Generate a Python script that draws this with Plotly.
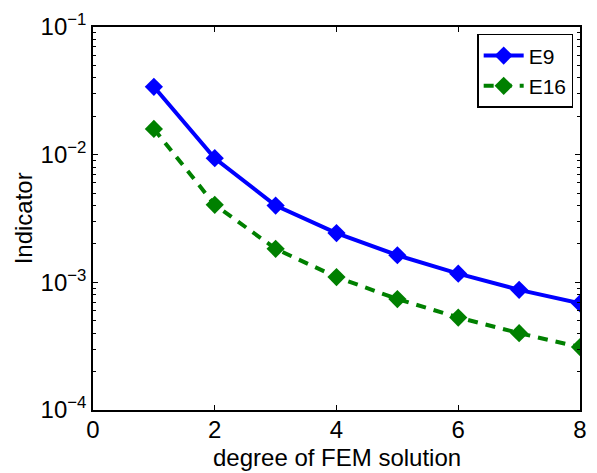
import plotly.graph_objects as go

degree = [1, 2, 3, 4, 5, 6, 7, 8]
e9 = [0.0340, 0.00938, 0.00399, 0.00243, 0.00163, 0.00117, 0.000873, 0.000684]
e16 = [0.0159, 0.00405, 0.00183, 0.00110, 0.00074, 0.00053, 0.00040, 0.000311]

x_ticks = [0, 2, 4, 6, 8]
y_ticks = [1e-4, 1e-3, 1e-2, 1e-1]
y_ticktext = ["10<sup>\u22124</sup>", "10<sup>\u22123</sup>", "10<sup>\u22122</sup>", "10<sup>\u22121</sup>"]
y_minor = [m * 10.0 ** e for e in (-4, -3, -2) for m in range(2, 10)]

font = "Liberation Sans, Arial, sans-serif"

fig = go.Figure()
fig.add_trace(go.Scatter(
    x=degree, y=e9, name="E9", mode="lines+markers",
    line=dict(color="rgb(0,0,255)", width=4),
    marker=dict(symbol="diamond", size=14, color="rgb(0,0,255)"),
))
fig.add_trace(go.Scatter(
    x=degree, y=e16, name="E16", mode="lines+markers",
    line=dict(color="rgb(0,128,0)", width=4, dash="10px,8px"),
    marker=dict(symbol="diamond", size=14, color="rgb(0,128,0)"),
))

fig.update_layout(
    width=597, height=473,
    margin=dict(l=93, r=10, t=24, b=63),
    paper_bgcolor="white", plot_bgcolor="white",
    font=dict(family=font, size=24, color="black"),
    showlegend=True,
    legend=dict(
        x=0.986, y=0.982, xanchor="right", yanchor="top",
        bordercolor="black", borderwidth=1.5, bgcolor="white",
        font=dict(size=21), tracegroupgap=0, itemwidth=40,
    ),
    annotations=[
        dict(text="degree of FEM solution", xref="paper", yref="paper",
             x=0.5, y=-0.123, xanchor="center", yanchor="middle",
             showarrow=False, font=dict(size=24)),
        dict(text="Indicator", xref="paper", yref="paper",
             x=-0.142, y=0.5, xanchor="center", yanchor="middle",
             textangle=-90, showarrow=False, font=dict(size=24)),
    ],
)
fig.update_xaxes(
    range=[0, 8], tickvals=x_ticks, ticks="inside", ticklen=5, tickwidth=1,
    tickcolor="black", showline=True, linecolor="black", linewidth=1.5,
    mirror="ticks", showgrid=False, zeroline=False,
    tickfont=dict(size=24), ticklabelstandoff=-3,
)
fig.update_yaxes(
    type="log", range=[-4, -1], tickvals=y_ticks, ticktext=y_ticktext,
    ticks="inside", ticklen=5, tickwidth=1, tickcolor="black",
    minor=dict(tickvals=y_minor, ticks="inside", ticklen=3, tickcolor="black", tickwidth=1, showgrid=False),
    showline=True, linecolor="black", linewidth=1.5,
    mirror="ticks", showgrid=False, zeroline=False,
    tickfont=dict(size=24),
)

fig.write_html("out.html")
